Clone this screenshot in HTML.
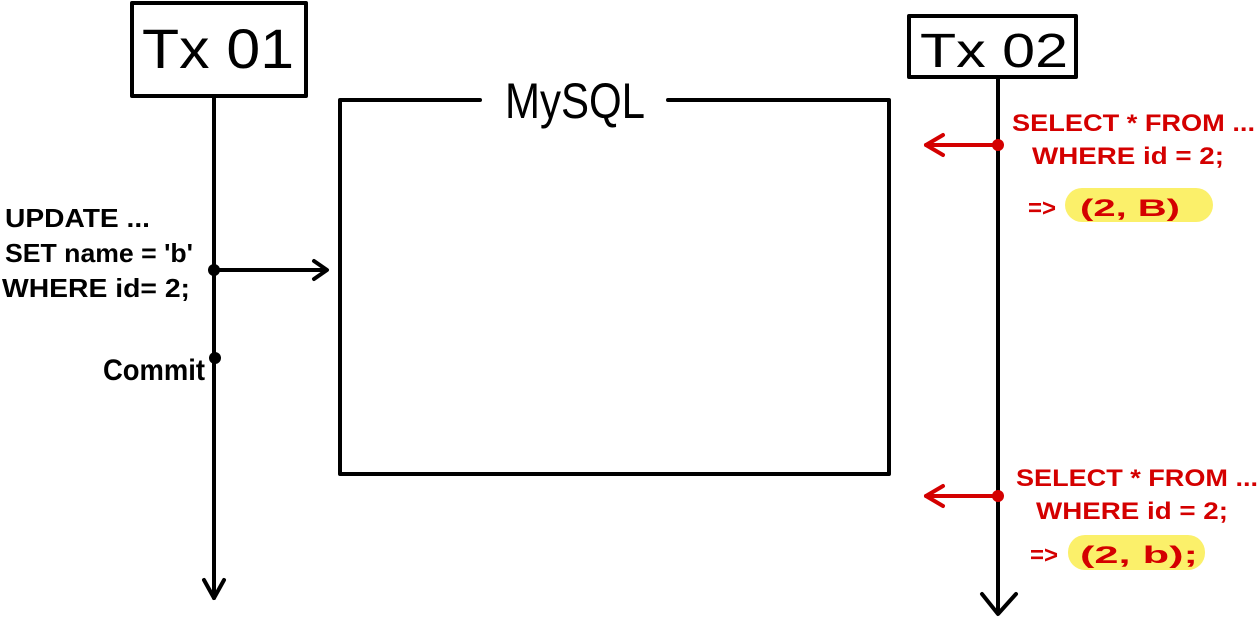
<!DOCTYPE html>
<html><head><style>
html,body{margin:0;padding:0;background:#fff;}
svg text{font-family:"Liberation Sans",sans-serif;font-weight:bold;}
</style></head><body>
<svg width="1260" height="620" viewBox="0 0 1260 620" xmlns="http://www.w3.org/2000/svg">
<rect width="1260" height="620" fill="#fff"/>
<g stroke="#000" stroke-width="4" fill="none" stroke-linecap="round" stroke-linejoin="round">
<rect x="132" y="3" width="174" height="93"/>
<rect x="909" y="16" width="167" height="61"/>
<line x1="214" y1="96" x2="214" y2="598"/>
<polyline points="204,580 214,598 224,580"/>
<line x1="998" y1="77" x2="998" y2="612"/>
<polyline points="982,594 998,614 1016,594"/>
<polyline points="480,100 340,100 340,474 889,474 889,100 668,100"/>
<line x1="214" y1="270" x2="326" y2="270"/>
<polyline points="314,261 327,270 314,279"/>
</g>
<circle cx="214" cy="270" r="6" fill="#000"/>
<circle cx="215" cy="358" r="6" fill="#000"/>
<g fill="#000">
<text x="142" y="68" font-size="56" font-weight="normal" textLength="152" lengthAdjust="spacingAndGlyphs" style="font-weight:normal">Tx 01</text>
<text x="920" y="67" font-size="48" style="font-weight:normal" textLength="148" lengthAdjust="spacingAndGlyphs">Tx 02</text>
<text x="505" y="118" font-size="50" style="font-weight:normal" textLength="140" lengthAdjust="spacingAndGlyphs">MySQL</text>
<text x="5" y="227" font-size="26" textLength="145" lengthAdjust="spacingAndGlyphs">UPDATE ...</text>
<text x="5" y="262" font-size="26" textLength="188" lengthAdjust="spacingAndGlyphs">SET name = 'b'</text>
<text x="2" y="297" font-size="26" textLength="188" lengthAdjust="spacingAndGlyphs">WHERE id= 2;</text>
<text x="103" y="380" font-size="30" textLength="102" lengthAdjust="spacingAndGlyphs">Commit</text>
</g>
<rect x="1065" y="188" width="148" height="34" rx="17" fill="#fbf06a"/>
<rect x="1068" y="535" width="137" height="35" rx="17" fill="#fbf06a"/>
<g stroke="#d40000" stroke-width="4" fill="none" stroke-linecap="round" stroke-linejoin="round">
<line x1="998" y1="145" x2="926" y2="145"/>
<polyline points="943,135 926,145 943,155"/>
<line x1="998" y1="496" x2="926" y2="496"/>
<polyline points="943,486 926,496 943,506"/>
</g>
<circle cx="998" cy="145" r="6" fill="#d40000"/>
<circle cx="998" cy="496" r="6" fill="#d40000"/>
<g fill="#d40000">
<text x="1012" y="131" font-size="24" textLength="243" lengthAdjust="spacingAndGlyphs">SELECT * FROM ...</text>
<text x="1032" y="164" font-size="24" textLength="192" lengthAdjust="spacingAndGlyphs">WHERE id = 2;</text>
<text x="1028" y="216" font-size="24" textLength="28" lengthAdjust="spacingAndGlyphs">=&gt;</text>
<text x="1080" y="216" font-size="24" textLength="100" lengthAdjust="spacingAndGlyphs">(2, B)</text>
<text x="1016" y="486" font-size="24" textLength="242" lengthAdjust="spacingAndGlyphs">SELECT * FROM ...</text>
<text x="1036" y="519" font-size="24" textLength="192" lengthAdjust="spacingAndGlyphs">WHERE id = 2;</text>
<text x="1030" y="563" font-size="24" textLength="28" lengthAdjust="spacingAndGlyphs">=&gt;</text>
<text x="1080" y="563" font-size="24" textLength="118" lengthAdjust="spacingAndGlyphs">(2, b);</text>
</g>
</svg>
</body></html>
